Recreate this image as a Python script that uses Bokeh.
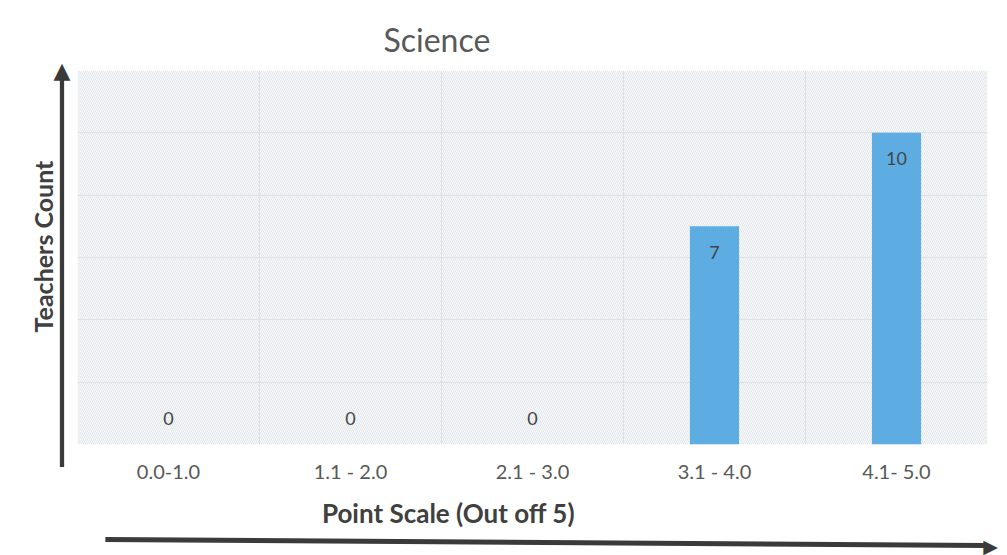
import math
from bokeh.plotting import figure
from bokeh.models import (FixedTicker, Range1d, BoxAnnotation, Label, Title, ColumnDataSource)
from bokeh.embed import file_html
from bokeh.resources import INLINE
from bokeh.core.properties import value

categories = ["0.0-1.0", "1.1 - 2.0", "2.1 - 3.0", "3.1 - 4.0", "4.1- 5.0"]
counts = [0, 0, 0, 7, 10]
y_ticks = [0, 2, 4, 6, 8, 10, 12]

FONT = "Lato"
xs = [i + 0.5 for i in range(len(categories))]
offsets = [26 if c > 0 else -26 for c in counts]
src = ColumnDataSource(dict(x=xs, top=counts, label=[str(c) for c in counts], off=offsets))

p = figure(width=1007, height=555, output_backend="svg", toolbar_location=None,
           x_range=Range1d(0, len(categories)), y_range=Range1d(0, 12),
           min_border_left=77, min_border_right=20, min_border_top=70, min_border_bottom=111)
p.background_fill_color = "white"
p.border_fill_color = "white"
p.outline_line_color = None

p.add_layout(BoxAnnotation(left=0, right=len(categories), bottom=0, top=12,
                           fill_color="#fafbfd", fill_alpha=1.0,
                           hatch_pattern="left_diagonal_line", hatch_color="#e2e5ea",
                           hatch_scale=4, hatch_weight=1, line_color=None, level="image"))

p.vbar(x="x", top="top", width=0.27, source=src, fill_color="#5dade2", line_color=None)
p.text(x="x", y="top", text="label", source=src, y_offset="off",
       text_align="center", text_baseline="middle", text_font=value(FONT),
       text_font_size="18px", text_color="#454545")

p.xaxis.ticker = FixedTicker(ticks=xs)
p.xaxis.major_label_overrides = {x: c for x, c in zip(xs, categories)}
p.xaxis.major_label_text_font = FONT
p.xaxis.major_label_text_font_size = "20px"
p.xaxis.major_label_text_color = "#595959"
p.xaxis.major_label_standoff = 8
p.xaxis.axis_line_color = None
p.xaxis.major_tick_line_color = None
p.xaxis.minor_tick_line_color = None

p.yaxis.visible = False

p.xgrid.ticker = FixedTicker(ticks=list(range(len(categories) + 1)))
p.xgrid.grid_line_color = "#dce1e8"
p.ygrid.ticker = FixedTicker(ticks=y_ticks)
p.ygrid.grid_line_color = "#dce1e8"

t = Title(text="Science", align="left", offset=306, standoff=24, text_font=FONT,
          text_font_size="32px", text_font_style="normal", text_color="#595959")
p.add_layout(t, "above")

p.add_layout(Label(x=42, y=246, x_units="canvas", y_units="canvas", text="Teachers Count",
                   angle=math.pi / 2, text_align="center", text_baseline="middle",
                   text_font=FONT, text_font_style="bold", text_font_size="25px",
                   text_color="#404040"), "left")
p.add_layout(Label(x=448, y=512, x_units="canvas", y_units="canvas", text="Point Scale (Out off 5)",
                   text_align="center", text_baseline="middle",
                   text_font=FONT, text_font_style="bold", text_font_size="26px",
                   text_color="#404040"), "below")

ARROW = "#3a3a3a"
# vertical arrow: shaft drawn as a label's padded background box, head as a glyph
p.add_layout(Label(x=61.5, y=270, x_units="canvas", y_units="canvas", text=" ",
                   text_font_size="1px", text_align="center", text_baseline="middle",
                   background_fill_color=ARROW, background_fill_alpha=1.0,
                   padding=dict(left=2, right=2, top=196, bottom=196)), "left")
p.add_layout(Label(x=61.5, y=70, x_units="canvas", y_units="canvas", text="\u25B2",
                   text_align="center", text_baseline="middle", text_font="DejaVu Sans",
                   text_font_size="22px", text_color=ARROW), "left")
# horizontal arrow (slightly slanted as in the scan)
p.add_layout(Label(x=545, y=542, x_units="canvas", y_units="canvas", text=" ",
                   text_font_size="1px", text_align="center", text_baseline="middle",
                   angle=-math.atan2(6, 880),
                   background_fill_color=ARROW, background_fill_alpha=1.0,
                   padding=dict(left=440, right=440, top=2, bottom=2)), "below")
p.add_layout(Label(x=990, y=545, x_units="canvas", y_units="canvas", text="\u25B6",
                   text_align="center", text_baseline="middle", text_font="DejaVu Sans",
                   text_font_size="19px", text_color=ARROW), "below")

open("out.html", "w").write(file_html(p, INLINE))
